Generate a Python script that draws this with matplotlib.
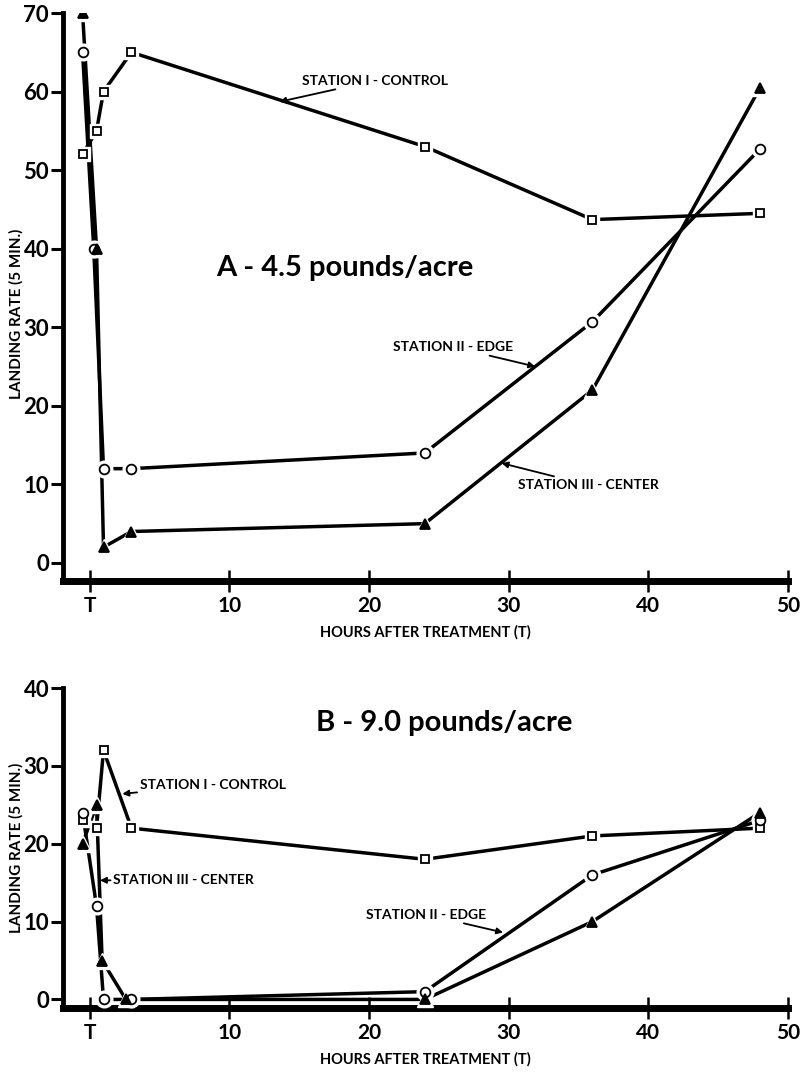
import matplotlib
matplotlib.use('Agg')
import matplotlib.pyplot as plt

# ---------------- data ----------------
# Panel A - 4.5 pounds/acre
a_ctrl_hours = [-0.5, 0.5, 1, 3, 24, 36, 48]
a_control = [52, 55, 60, 65, 53, 43.7, 44.5]
a_edge_hours = [-0.5, 0.3, 1, 3, 24, 36, 48]
a_edge = [65, 40, 12, 12, 14, 30.7, 52.7]
a_cent_hours = [-0.5, 0.5, 1, 3, 24, 36, 48]
a_center = [70, 40, 2, 4, 5, 22, 60.5]

# Panel B - 9.0 pounds/acre
b_ctrl_hours = [-0.5, 0.5, 1, 3, 24, 36, 48]
b_control = [23, 22, 32, 22, 18, 21, 22]
b_edge_hours = [-0.5, 0.5, 1, 3, 24, 36, 48]
b_edge = [24, 12, 0, 0, 1, 16, 23]
b_cent_hours = [-0.5, 0.5, 0.9, 2.6, 24, 36, 48]
b_center = [20, 25, 5, 0, 0, 10, 24]

x_ticks = [0, 10, 20, 30, 40, 50]
x_ticklabels = ['T', '10', '20', '30', '40', '50']
a_yticks = [0, 10, 20, 30, 40, 50, 60, 70]
b_yticks = [0, 10, 20, 30, 40]

FONT = ['Lato', 'DejaVu Sans']
plt.rcParams['font.family'] = FONT
plt.rcParams['font.weight'] = 'bold'

fig = plt.figure(figsize=(8.04, 10.72), dpi=100)
axA = fig.add_axes([63/804, 1-581/1072, (788-63)/804, (581-13)/1072])
axB = fig.add_axes([63/804, 1-1008/1072, (788-63)/804, (1008-688)/1072])


def series(ax, x, y, marker, ms, filled):
    ax.plot(x, y, color='black', lw=2.5, zorder=2, solid_capstyle='butt')
    ax.plot(x, y, ls='none', marker=marker, ms=ms + 5, mfc='white', mec='white',
            zorder=3)
    ax.plot(x, y, ls='none', marker=marker, ms=ms,
            mfc='black' if filled else 'white', mec='black', mew=1.3, zorder=4)


def style(ax, ylim, yticks, ylabel_y):
    ax.set_xlim(-1.9, 50)
    ax.set_ylim(*ylim)
    for s in ['top', 'right']:
        ax.spines[s].set_visible(False)
    ax.spines['left'].set_linewidth(3.5)
    ax.spines['bottom'].set_linewidth(5)
    ax.spines['left'].set_bounds(ylim[0], yticks[-1])
    ax.set_xticks(x_ticks)
    ax.set_xticklabels(x_ticklabels)
    ax.set_yticks(yticks)
    ax.tick_params(axis='x', direction='inout', length=16, width=1.8, pad=3,
                   labelsize=15)
    ax.tick_params(axis='y', direction='out', length=9, width=2.2, pad=1,
                   labelsize=16)
    for lab in ax.get_xticklabels() + ax.get_yticklabels():
        lab.set_fontweight('bold')
    ax.set_xlabel('HOURS AFTER TREATMENT (T)', fontsize=10.5, fontweight='bold',
                  labelpad=6)
    ax.set_ylabel('LANDING RATE (5 MIN.)', fontsize=11, fontweight='bold')
    ax.yaxis.set_label_coords(-0.054, ylabel_y)


ann = dict(fontsize=10, fontweight='bold', va='center',
           arrowprops=dict(arrowstyle='-|>', color='black', lw=1.3,
                           mutation_scale=9, shrinkA=0, shrinkB=0))

# Panel A
series(axA, a_ctrl_hours, a_control, 's', 5.5, False)
series(axA, a_edge_hours, a_edge, 'o', 7, False)
series(axA, a_cent_hours, a_center, '^', 7, True)
style(axA, (-2.3, 70), a_yticks, 0.47)
axA.text(18.3, 37.5, 'A - 4.5 pounds/acre', fontsize=21, fontweight='bold',
         ha='center', va='center')
axA.annotate('STATION I - CONTROL', xy=(13.6, 58.7), xytext=(15.2, 61.4),
             ha='left', **ann)
axA.annotate('STATION II - EDGE', xy=(31.9, 25.0), xytext=(30.3, 27.5),
             ha='right', **ann)
axA.annotate('STATION III - CENTER', xy=(29.5, 12.7), xytext=(30.7, 9.9),
             ha='left', **ann)

# Panel B
series(axB, b_ctrl_hours, b_control, 's', 5.5, False)
series(axB, b_edge_hours, b_edge, 'o', 7, False)
series(axB, b_cent_hours, b_center, '^', 7, True)
style(axB, (-1.1, 40), b_yticks, 0.5)
axB.text(25.4, 35.5, 'B - 9.0 pounds/acre', fontsize=21, fontweight='bold',
         ha='center', va='center')
axB.annotate('STATION I - CONTROL', xy=(2.35, 26.4), xytext=(3.6, 27.6),
             ha='left', **ann)
axB.annotate('STATION III - CENTER', xy=(0.75, 15.3), xytext=(1.7, 15.3),
             ha='left', **ann)
axB.annotate('STATION II - EDGE', xy=(29.6, 8.6), xytext=(28.4, 10.9),
             ha='right', **ann)

fig.savefig('out.png', dpi=100)
